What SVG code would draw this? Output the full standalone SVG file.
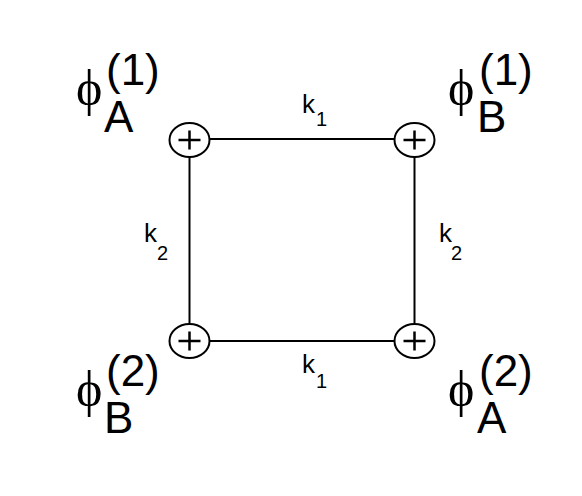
<svg xmlns="http://www.w3.org/2000/svg" width="582" height="496" viewBox="0 0 582 496">
<style>
.ln{stroke:#000;stroke-width:2;fill:none}
.nd{stroke:#000;stroke-width:2;fill:#fff}
.pl{stroke:#000;stroke-width:2.5;fill:none}
.phi{font-family:"Liberation Serif","DejaVu Serif",serif;font-size:50px}
.big{font-family:"Liberation Sans",Arial,sans-serif;font-size:44px}
.k{font-family:"Liberation Sans",Arial,sans-serif;font-size:26px}
.ks{font-family:"Liberation Sans",Arial,sans-serif;font-size:20px}
</style>
<rect width="582" height="496" fill="#fff"/>
<g id="connectors">
<line class="ln" x1="190" y1="139" x2="414" y2="139"/>
<line class="ln" x1="190" y1="341" x2="414" y2="341"/>
<line class="ln" x1="189.5" y1="139" x2="189.5" y2="341"/>
<line class="ln" x1="414.5" y1="139" x2="414.5" y2="341"/>
<text class="k" x="302" y="113">k</text><text class="ks" x="316" y="126">1</text>
<text class="k" x="302" y="373">k</text><text class="ks" x="316" y="388">1</text>
<text class="k" x="144" y="242">k</text><text class="ks" x="157" y="260">2</text>
<text class="k" x="439" y="242">k</text><text class="ks" x="451" y="260">2</text>
</g>
<g id="nodeA1">
<ellipse class="nd" cx="189.5" cy="140" rx="20" ry="17"/>
<path class="pl" d="M178.5 140H200.5M189.5 130.5V149.5"/>
<text class="phi" x="76" y="105">ϕ</text>
<text class="big" x="106" y="85">(1)</text>
<text class="big" x="104" y="132">A</text>
</g>
<g id="nodeB1">
<ellipse class="nd" cx="414.5" cy="140" rx="20" ry="17"/>
<path class="pl" d="M403.5 140H425.5M414.5 130.5V149.5"/>
<text class="phi" x="448" y="105">ϕ</text>
<text class="big" x="479" y="85">(1)</text>
<text class="big" x="477" y="132">B</text>
</g>
<g id="nodeB2">
<ellipse class="nd" cx="189.5" cy="341" rx="20" ry="17"/>
<path class="pl" d="M178.5 341H200.5M189.5 331.5V350.5"/>
<text class="phi" x="76" y="406">ϕ</text>
<text class="big" x="106" y="386">(2)</text>
<text class="big" x="104" y="433">B</text>
</g>
<g id="nodeA2">
<ellipse class="nd" cx="414.5" cy="341" rx="20" ry="17"/>
<path class="pl" d="M403.5 341H425.5M414.5 331.5V350.5"/>
<text class="phi" x="448" y="406">ϕ</text>
<text class="big" x="479" y="386">(2)</text>
<text class="big" x="477" y="433">A</text>
</g>
</svg>
